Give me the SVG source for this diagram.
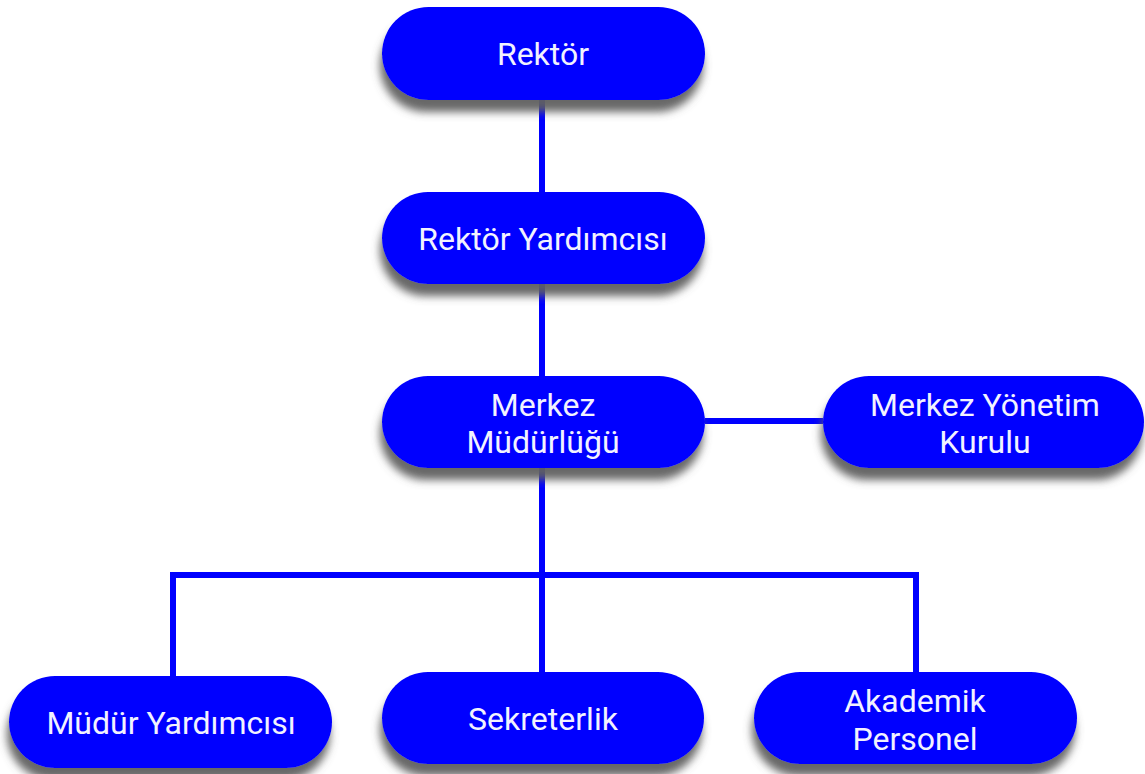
<svg xmlns="http://www.w3.org/2000/svg" width="1145" height="774" viewBox="0 0 1145 774">
<defs>
<filter id="sh" x="-10%" y="-20%" width="120%" height="160%">
<feDropShadow dx="-2" dy="12" stdDeviation="4" flood-color="#5e5e5e" flood-opacity="0.95"/>
</filter>
<style>
.box{fill:#0000ff;filter:url(#sh)}
.t{font-family:Roboto,"Liberation Sans",sans-serif;font-size:32px;fill:#f2f2ff;text-anchor:middle}
.c{fill:none;stroke:#0000ff;stroke-width:6}
</style>
</defs>
<rect width="1145" height="774" fill="#ffffff"/>
<g id="connectors">
<path class="c" d="M542,100 V192"/>
<path class="c" d="M542,284 V376"/>
<path class="c" d="M542,468 V672"/>
<path class="c" d="M705,421 H823"/>
<path class="c" d="M173,676 V575 H916 V672"/>
</g>
<g id="rektor">
<rect class="box" x="382" y="7" width="323" height="93" rx="46.5"/>
<text class="t" x="543" y="65">Rektör</text>
</g>
<g id="rektor-yardimcisi">
<rect class="box" x="382" y="192" width="323" height="92" rx="46"/>
<text class="t" x="543" y="250">Rektör Yardımcısı</text>
</g>
<g id="merkez-mudurlugu">
<rect class="box" x="382" y="376" width="323" height="92" rx="46"/>
<text class="t" x="543" y="416">Merkez</text>
<text class="t" x="543" y="453">Müdürlüğü</text>
</g>
<g id="merkez-yonetim-kurulu">
<rect class="box" x="823" y="376" width="321" height="92" rx="46"/>
<text class="t" x="985" y="416">Merkez Yönetim</text>
<text class="t" x="985" y="453">Kurulu</text>
</g>
<g id="mudur-yardimcisi">
<rect class="box" x="9" y="676" width="323" height="92" rx="46"/>
<text class="t" x="171" y="734">Müdür Yardımcısı</text>
</g>
<g id="sekreterlik">
<rect class="box" x="382" y="672" width="322" height="92" rx="46"/>
<text class="t" x="543" y="730">Sekreterlik</text>
</g>
<g id="akademik-personel">
<rect class="box" x="754" y="672" width="323" height="92" rx="46"/>
<text class="t" x="915" y="712">Akademik</text>
<text class="t" x="915" y="750">Personel</text>
</g>
</svg>
